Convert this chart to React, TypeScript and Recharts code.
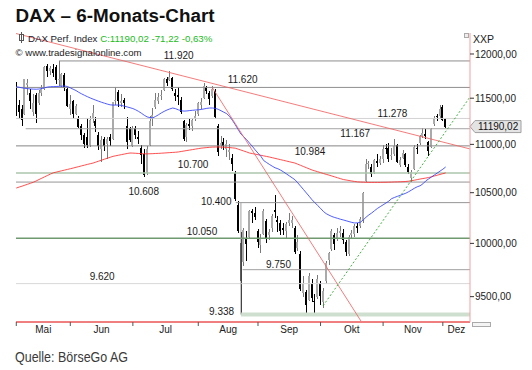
import { Bar, ComposedChart, Line, ReferenceDot, ReferenceLine, XAxis, YAxis } from "recharts"

// daily bars, index 0 = first trading day shown (early May)
const OPEN = [
  11640, 11420, 11380, 11330, 11650, 11560, 11350, 11540, 11450, 11560, 11600, 11860, 11800, 11830, 11850, 11700, 11640, 11760, 11600,
  11380, 11470, 11330, 11280, 11200, 11100, 11080, 10990, 11270, 11250, 11100, 10950, 11060, 11000, 11080, 11060, 11470, 11570, 11450, 11480, 11200, 11170,
  10980, 11170, 11080, 10960, 10900, 10700, 10990, 11280, 11400, 11470, 11520, 11590, 11720, 11700, 11730, 11560, 11540, 11480, 11250, 11080, 11220, 11200, 11280,
  11330, 11430, 11500, 11620, 11560, 11520, 11580, 11200, 10990, 11020, 10950, 10920, 10860, 10700, 10380, 10000, 9820, 10050, 10060, 10320, 10300,
  10120, 9980, 10090, 10220, 10080, 10150, 10330, 10230, 10200, 10150, 10120, 10200, 10200, 10150, 9960, 9900, 9530, 9540, 9470, 9620, 9460, 9500,
  9630, 9450, 9640, 9840, 9950, 10080, 10050, 10100, 10100, 10010, 9900, 10080, 10090, 10170, 10170, 10230, 10620, 10800, 10760, 10700, 10830, 10800,
  10850, 10960, 10960, 10880, 10900, 10990, 10780, 10860, 10900, 10760, 10650, 10740, 10960, 11010, 11090, 11110, 11020, 10970, 11220, 11300, 11310,
  11400, 11270,
]
const HIGH = [
  11680, 11480, 11420, 11720, 11720, 11600, 11550, 11560, 11590, 11650, 11860, 11880, 11860, 11880, 11870, 11920, 11780, 11780, 11620,
  11530, 11480, 11440, 11300, 11220, 11120, 11280, 11300, 11430, 11290, 11130, 11090, 11080, 11080, 11110, 11460, 11620, 11590, 11550, 11500, 11290, 11190,
  11200, 11200, 11140, 10990, 10950, 10980, 11300, 11390, 11560, 11560, 11590, 11730, 11740, 11800, 11740, 11600, 11620, 11510, 11260, 11230, 11270, 11280, 11360,
  11460, 11500, 11670, 11640, 11580, 11640, 11600, 11220, 11090, 11070, 11050, 11000, 10900, 10720, 10420, 10110, 10150, 10120, 10330, 10340, 10360,
  10140, 10090, 10340, 10240, 10140, 10290, 10480, 10270, 10230, 10200, 10210, 10300, 10270, 10170, 10080, 9930, 9690, 9560, 9720, 9660, 9520, 9700,
  9640, 9580, 9830, 9920, 10140, 10100, 10150, 10170, 10140, 10030, 10080, 10130, 10190, 10200, 10260, 10510, 10850, 10830, 10790, 10850, 10900, 10880,
  10990, 11000, 11010, 10960, 11060, 11000, 10870, 10940, 10910, 10790, 10730, 10990, 11000, 11100, 11170, 11160, 11040, 11180, 11300, 11330, 11430,
  11420, 11280,
]
const LOW = [
  11300, 11270, 11200, 11320, 11540, 11380, 11300, 11230, 11430, 11520, 11590, 11740, 11760, 11740, 11660, 11640, 11620, 11580, 11400,
  11320, 11270, 11320, 11170, 11050, 10960, 10960, 10970, 11230, 11130, 10940, 10810, 10930, 10850, 10980, 11050, 11430, 11400, 11400, 11380, 10950, 11030,
  10970, 11060, 11000, 10790, 10660, 10680, 10980, 11200, 11380, 11440, 11480, 11580, 11640, 11690, 11580, 11470, 11430, 11330, 11040, 11020, 11150, 11140, 11250,
  11300, 11380, 11490, 11550, 11430, 11500, 11270, 10880, 10950, 10940, 10870, 10840, 10720, 10420, 10100, 9338, 9780, 9830, 10040, 10200, 10230,
  9960, 9910, 10080, 10000, 10030, 10110, 10250, 10110, 10080, 10080, 10050, 10170, 10150, 9900, 9930, 9550, 9500, 9325, 9460, 9450, 9340, 9480,
  9420, 9400, 9620, 9790, 9930, 9940, 10020, 10060, 9990, 9880, 9880, 10050, 10060, 10100, 10150, 10200, 10608, 10740, 10660, 10690, 10760, 10780,
  10800, 10900, 10820, 10840, 10880, 10800, 10760, 10850, 10760, 10690, 10610, 10730, 10900, 10990, 11070, 11060, 10880, 10960, 11200, 11250, 11280,
  11250, 11170,
]
const CLOSE = [
  11327, 11350, 11265, 11709, 11673, 11472, 11450, 11330, 11560, 11600, 11850, 11800, 11840, 11780, 11700, 11720, 11770, 11610, 11414,
  11436, 11327, 11419, 11190, 11100, 11000, 10990, 11265, 11332, 11197, 10984, 11045, 10978, 11060, 11040, 11460, 11480, 11471, 11473, 11450, 11020, 11050,
  11180, 11099, 11058, 10890, 10676, 10950, 11250, 11315, 11484, 11517, 11540, 11716, 11673, 11734, 11604, 11520, 11512, 11347, 11056, 11211, 11199, 11257, 11308,
  11443, 11456, 11636, 11585, 11490, 11604, 11293, 10924, 11014, 10985, 11005, 10940, 10792, 10432, 10124, 9648, 10128, 9997, 10315, 10298, 10259,
  10015, 10048, 10317, 10038, 10108, 10271, 10303, 10210, 10123, 10131, 10188, 10227, 10229, 9916, 10009, 9570, 9612, 9428, 9688, 9484, 9450, 9660,
  9509, 9553, 9815, 9903, 10119, 9993, 10096, 10118, 10033, 9915, 10065, 10105, 10165, 10148, 10238, 10492, 10795, 10802, 10692, 10831, 10801, 10850,
  10951, 10951, 10845, 10887, 10988, 10815, 10833, 10907, 10783, 10708, 10713, 10971, 10959, 11085, 11119, 11092, 10934, 11169, 11285, 11293, 11382,
  11261, 11190,
]
// blue = short moving average, red = long moving average
const MA_BLUE = [
  11628, 11622, 11615, 11610, 11606, 11603, 11601, 11600, 11602, 11608, 11616, 11624, 11628, 11629, 11630, 11632, 11634, 11636, 11630,
  11615, 11600, 11585, 11565, 11548, 11532, 11517, 11503, 11490, 11478, 11466, 11455, 11445, 11435, 11427, 11424, 11424, 11425, 11420, 11412, 11404, 11395,
  11386, 11372, 11355, 11335, 11313, 11295, 11287, 11284, 11300, 11318, 11338, 11355, 11370, 11382, 11392, 11385, 11372, 11362, 11358, 11360, 11364, 11367, 11370,
  11372, 11376, 11382, 11388, 11392, 11392, 11388, 11378, 11362, 11346, 11330, 11300, 11258, 11210, 11160, 11110, 11080, 11050, 11014, 10980, 10942,
  10908, 10875, 10830, 10810, 10790, 10772, 10755, 10745, 10730, 10712, 10692, 10672, 10652, 10632, 10600, 10566, 10532, 10498, 10464, 10429, 10400, 10371,
  10343, 10312, 10290, 10275, 10262, 10252, 10244, 10235, 10228, 10220, 10212, 10204, 10198, 10200, 10205, 10228, 10255, 10278, 10297, 10320, 10342, 10360,
  10378, 10396, 10415, 10440, 10452, 10463, 10473, 10484, 10495, 10510, 10527, 10545, 10560, 10570, 10590, 10620, 10640, 10660, 10680, 10700, 10720,
  10740, 10763,
]
const MA_RED = [
  10547, 10557, 10566, 10576, 10586, 10596, 10606, 10620, 10634, 10648, 10662, 10676, 10690, 10703, 10710, 10717, 10724, 10731, 10738,
  10745, 10752, 10760, 10767, 10775, 10782, 10790, 10797, 10804, 10814, 10824, 10834, 10844, 10854, 10864, 10874, 10880, 10886, 10892, 10898, 10904, 10909,
  10908, 10906, 10904, 10902, 10900, 10900, 10901, 10902, 10904, 10905, 10907, 10909, 10911, 10913, 10915, 10917, 10920, 10925, 10930, 10935, 10940, 10945, 10950,
  10955, 10960, 10963, 10966, 10969, 10971, 10972, 10972, 10971, 10970, 10968, 10966, 10963, 10960, 10950, 10940, 10930, 10920, 10909, 10903, 10897,
  10891, 10885, 10879, 10873, 10867, 10860, 10853, 10846, 10839, 10832, 10825, 10818, 10811, 10804, 10792, 10780, 10768, 10756, 10744, 10732, 10723, 10714,
  10705, 10696, 10687, 10679, 10670, 10661, 10652, 10643, 10634, 10629, 10624, 10619, 10614, 10610, 10608, 10607, 10606, 10605, 10605, 10605, 10605, 10605,
  10606, 10606, 10607, 10608, 10609, 10610, 10611, 10612, 10614, 10617, 10622, 10627, 10633, 10639, 10644, 10649, 10654, 10662, 10670, 10678, 10686,
  10694, 10702,
]

const MONTHS = ["Mai", "Jun", "Jul", "Aug", "Sep", "Okt", "Nov", "Dez"]
const MONTH_START = [0, 19, 41, 64, 85, 107, 129, 150]
const MONTH_MID = [9.5, 30, 52.5, 74.5, 96, 118, 139.5, 154.8]
const PRICE_TICKS = [9500, 10000, 10500, 11000, 11500, 12000]
const LAST = 11190.02

const X_DOMAIN = [-0.1, 159.56]
const Y_DOMAIN = [9271, 12245]

// support / resistance levels: value, first bar index
const LEVELS = [
  { value: 11920, from: 15, color: "#8e8e8e", width: 1 },
  { value: 11620, from: -0.1, color: "#8e8e8e", width: 1 },
  { value: 11278, from: -0.1, color: "#d2d2d2", width: 1 },
  { value: 11167, from: 3.3, color: "#a4a4a4", width: 1 },
  { value: 10984, from: -0.1, color: "#858585", width: 1 },
  { value: 10700, from: -0.1, color: "#adc6ad", width: 1.5 },
  { value: 10608, from: -0.1, color: "#959595", width: 1 },
  { value: 10400, from: 77.2, color: "#959595", width: 1 },
  { value: 10050, from: -0.1, color: "#6f9a6f", width: 1.5 },
  { value: 9750, from: 79.6, color: "#a0a0a0", width: 1 },
  { value: 9620, from: -0.1, color: "#d8d8d8", width: 1 },
  { value: 9338, from: 79, color: "#cfdfcf", width: 4 },
]
const LEVEL_LABELS = [
  { text: "11.920", at: 57.1, y: 11983 },
  { text: "11.620", at: 79.6, y: 11704 },
  { text: "11.278", at: 132.3, y: 11330 },
  { text: "11.167", at: 119.2, y: 11114 },
  { text: "10.984", at: 103.3, y: 10925 },
  { text: "10.700", at: 62.2, y: 10789 },
  { text: "10.608", at: 44.8, y: 10512 },
  { text: "10.400", at: 70.3, y: 10411 },
  { text: "10.050", at: 65.3, y: 10115 },
  { text: "9.750", at: 92.2, y: 9803 },
  { text: "9.620", at: 30.2, y: 9686 },
  { text: "9.338", at: 72.2, y: 9365 },
]
const TRENDS = [
  { a: [-0.1, 12239], b: [159.5, 10952], color: "#f26464", dash: undefined },
  { a: [68.9, 11620], b: [121.2, 9280], color: "#f26464", dash: undefined },
  { a: [107.9, 9417], b: [159.5, 11511], color: "#26a626", dash: "2 2" },
]

const data = CLOSE.map((c, i) => ({
  i,
  o: OPEN[i],
  h: HIGH[i],
  l: LOW[i],
  c,
  range: [LOW[i], HIGH[i]],
  blue: MA_BLUE[i],
  red: MA_RED[i],
}))

function Candle(props: any) {
  const { x, y, width, height, payload } = props
  if (x == null || y == null) return null
  const lh = Math.log(payload.h)
  const ll = Math.log(payload.l)
  const toY = (v: number) => y + (height * (lh - Math.log(v))) / (lh - ll || 1)
  const c = Math.round(x + width / 2)
  const up = payload.c >= payload.o
  const top = Math.min(toY(payload.o), toY(payload.c))
  const bot = Math.max(toY(payload.o), toY(payload.c))
  return (
    <g shapeRendering="crispEdges">
      <rect x={c} y={toY(payload.h)} width={1} height={toY(payload.l) - toY(payload.h)} fill={up ? "#7a7a7a" : "#000"} />
      <rect x={c - 1} y={top} width={2} height={Math.max(1, bot - top)} fill={up ? "#aaaaaa" : "#000"} />
    </g>
  )
}

function MonthTick(props: any) {
  const { x, y, payload } = props
  const v = payload.value
  if (MONTH_START.includes(v)) {
    return <line x1={x} x2={x} y1={y} y2={y + 4} stroke="#555" />
  }
  const k = MONTH_MID.indexOf(v)
  return (
    <text x={x} y={y + 11} textAnchor="middle" fontSize={10} fill="#222">
      {MONTHS[k]}
    </text>
  )
}

function PriceTag(props: any) {
  const vb = props.viewBox
  if (!vb) return null
  const r = vb.x + vb.width
  const cy = vb.y
  return (
    <g>
      <path
        d={`M${r} ${cy} L${r + 5} ${cy - 6} H${r + 51} V${cy + 6} H${r + 5} Z`}
        fill="#e4e4e4"
        stroke="#a0a0a0"
      />
      <text x={r + 8} y={cy + 3.6} fontSize={10} fill="#111">
        11190,02
      </text>
    </g>
  )
}

export default function App() {
  return (
    <div
      style={{
        position: "absolute",
        left: 0,
        top: 0,
        width: 532,
        height: 370,
        background: "#fff",
        fontFamily: "'Liberation Sans', Arial, sans-serif",
      }}
    >
      <ComposedChart width={532} height={370} data={data} margin={{ top: 33, right: 0, bottom: 32, left: 16 }}>
        <XAxis
          type="number"
          dataKey="i"
          domain={X_DOMAIN}
          allowDataOverflow
          ticks={[...MONTH_START, ...MONTH_MID]}
          interval={0}
          tick={<MonthTick />}
          tickLine={false}
          tickSize={0}
          tickMargin={0}
          axisLine={{ stroke: "#e00000" }}
          height={16}
        />
        <YAxis
          orientation="right"
          scale="log"
          domain={Y_DOMAIN}
          allowDataOverflow
          ticks={PRICE_TICKS}
          interval={0}
          tickFormatter={(v) => `${v},00`}
          tick={{ fontSize: 10, fill: "#222" }}
          tickLine={{ stroke: "#333" }}
          tickSize={4}
          tickMargin={1}
          axisLine={{ stroke: "#f3a0a0" }}
          width={62}
        />

        {LEVELS.map((lv) => (
          <ReferenceLine
            key={lv.value}
            segment={[
              { x: lv.from, y: lv.value },
              { x: X_DOMAIN[1], y: lv.value },
            ]}
            stroke={lv.color}
            strokeWidth={lv.width}
          />
        ))}
        <ReferenceLine
          segment={[
            { x: 79, y: 10400 },
            { x: 79, y: 9338 },
          ]}
          stroke="#a0a0a0"
        />

        <Bar dataKey="range" barSize={2} shape={<Candle />} isAnimationActive={false} />
        <Line dataKey="red" stroke="#ff3030" strokeWidth={0.85} dot={false} activeDot={false} isAnimationActive={false} />
        <Line dataKey="blue" stroke="#3040ff" strokeWidth={0.85} dot={false} activeDot={false} isAnimationActive={false} />

        {TRENDS.map((t, k) => (
          <ReferenceLine
            key={k}
            segment={[
              { x: t.a[0], y: t.a[1] },
              { x: t.b[0], y: t.b[1] },
            ]}
            stroke={t.color}
            strokeWidth={0.85}
            strokeDasharray={t.dash}
          />
        ))}

        {LEVEL_LABELS.map((lb) => (
          <ReferenceDot
            key={lb.text}
            x={lb.at}
            y={lb.y}
            r={0}
            stroke="none"
            label={{ value: lb.text, position: "center", fill: "#1a1a1a", fontSize: 10 }}
          />
        ))}

        <ReferenceLine y={LAST} stroke="none" label={<PriceTag />} />
      </ComposedChart>

      <svg
        width={532}
        height={370}
        style={{ position: "absolute", left: 0, top: 0, pointerEvents: "none" }}
      >
        <text x={15.5} y={21.7} fontSize={18} fontWeight="bold" fill="#111" textLength={199} lengthAdjust="spacingAndGlyphs">
          DAX – 6-Monats-Chart
        </text>
        <rect x={19.5} y={34.5} width={4} height={6} fill="#fff" stroke="#555" />
        <line x1={21.5} x2={21.5} y1={32} y2={43} stroke="#555" />
        <text x={28} y={41.7} fontSize={9.7} fill="#1a1a2a">
          DAX Perf. Index <tspan fill="#22bb22">C:11190,02 -71,22 -0,63%</tspan>
        </text>
        <text x={15.5} y={56.3} fontSize={9.6} fill="#1a1a1a">
          © www.tradesignalonline.com
        </text>
        <rect x={464.5} y={33.5} width={4} height={4} fill="#eee" stroke="#aaa" />
        <text x={473} y={42.5} fontSize={10.5} fill="#222">
          XXP
        </text>
        <rect x={472.5} y={322.5} width={18} height={4} fill="#f4f4f4" stroke="#aaa" />
        <text x={15} y={362} fontSize={15} fill="#3a3a3a" textLength={113} lengthAdjust="spacingAndGlyphs">
          Quelle: BörseGo AG
        </text>
      </svg>
    </div>
  )
}
